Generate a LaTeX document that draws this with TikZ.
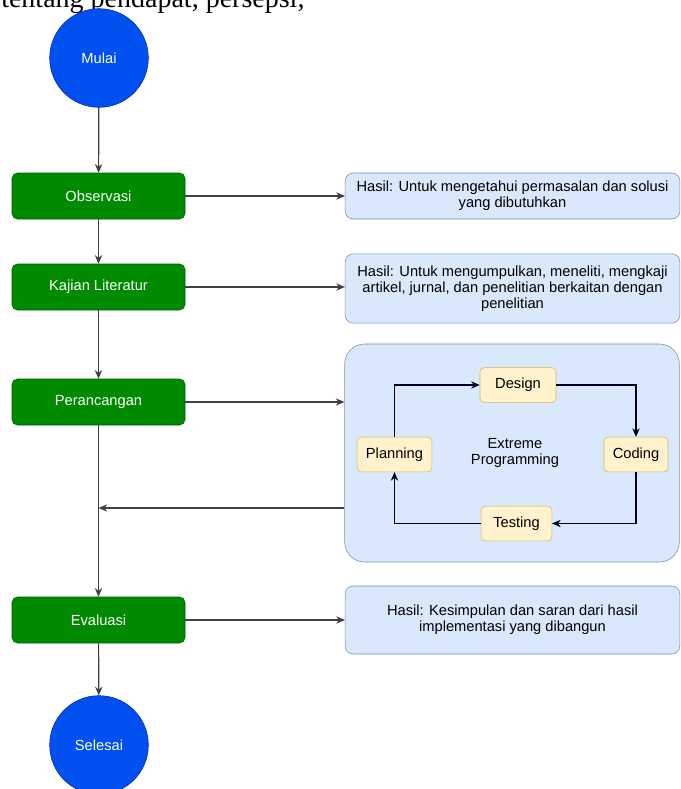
\documentclass[tikz,border=0pt]{standalone}
\usepackage{fontspec}
\setmainfont{Liberation Sans}
\newfontfamily\pageserif{Liberation Serif}
\usetikzlibrary{arrows.meta}

\begin{document}
\begin{tikzpicture}[x=0.75pt,y=-0.75pt,
    font=\fontsize{11}{11.8}\selectfont,
    terminal/.style={circle,fill=startcolor,draw=startline,text=white,minimum size=74pt,inner sep=0pt},
    process/.style={rectangle,rounded corners=4pt,fill=stepcolor,draw=stepline,text=white,minimum width=129.75pt,minimum height=34.5pt},
    hasil/.style={rectangle,rounded corners=6pt,fill=hasilcolor,draw=hasilline,align=center,minimum width=251pt},
    xpstep/.style={rectangle,rounded corners=3pt,fill=xpcolor,draw=xpline,minimum height=26pt,inner sep=2pt},
    line/.style={draw=black!75,line width=0.9pt,-{Stealth[length=6.5pt,width=5.5pt]}},
    xpline/.style={draw=black!85!blue,line width=0.9pt,-{Stealth[length=6.5pt,width=5.5pt]}}]

    \definecolor{startcolor}{HTML}{0050EF}
    \definecolor{startline}{HTML}{001DBC}
    \definecolor{stepcolor}{HTML}{008A00}
    \definecolor{stepline}{HTML}{005700}
    \definecolor{hasilcolor}{HTML}{DAE8FC}
    \definecolor{hasilline}{HTML}{6C8EBF}
    \definecolor{xpcolor}{HTML}{FFF2CC}
    \definecolor{xpline}{HTML}{D6B656}

    \useasboundingbox (0,0) rectangle (681,789);

    % text of the page above the figure
    \node[font=\pageserif\fontsize{21}{21}\selectfont,anchor=base west,inner sep=0pt] (kutipan) at (1,7.5) {tentang pendapat, persepsi,};

    % main flow
    \node[terminal] (mulai) at (99,58) {Mulai};
    \node[process] (observasi) at (98.5,196) {Observasi};
    \node[process] (kajian) at (98.5,287) {Kajian Literatur};
    \node[process] (perancangan) at (98.5,402) {Perancangan};
    \node[process] (evaluasi) at (98.5,620) {Evaluasi};
    \node[terminal] (selesai) at (99,745) {Selesai};

    % results
    \node[hasil,minimum height=34.5pt] (hasil1) at (512.5,196)
        {Hasil: Untuk mengetahui permasalan dan solusi\\ yang dibutuhkan};
    \node[hasil,minimum height=52pt] (hasil2) at (512.5,288.5)
        {Hasil: Untuk mengumpulkan, meneliti, mengkaji\\ artikel, jurnal, dan penelitian berkaitan dengan\\ penelitian};
    \node[hasil,minimum height=163.5pt,rounded corners=15pt] (xp) at (512,453) {};
    \node[hasil,minimum height=51pt] (hasil4) at (512.5,620)
        {Hasil: Kesimpulan dan saran dari hasil\\ implementasi yang dibangun};

    % extreme programming cycle
    \node[align=center] (xplabel) at (515,453) {Extreme\\ Programming};
    \node[xpstep,minimum width=57pt] (design) at (518,385) {Design};
    \node[xpstep,minimum width=56pt] (planning) at (394.5,454.5) {Planning};
    \node[xpstep,minimum width=48pt] (coding) at (636,454.5) {Coding};
    \node[xpstep,minimum width=53pt] (testing) at (516.5,523.5) {Testing};

    \draw[xpline] (planning.north) |- (design.west);
    \draw[xpline] (design.east) -| (coding.north);
    \draw[xpline] (coding.south) |- (testing.east);
    \draw[xpline] (testing.west) -| (planning.south);

    % connectors
    \coordinate (balik) at (98.5,508);

    \draw[line] (mulai) -- (observasi);
    \draw[line] (observasi) -- (kajian);
    \draw[line] (kajian) -- (perancangan);
    \draw[line] (perancangan) -- (evaluasi);
    \draw[line] (evaluasi) -- (selesai);

    \draw[line] (observasi) -- (hasil1);
    \draw[line] (kajian.east) -- (kajian.east -| hasil2.west);
    \draw[line] (perancangan.east) -- (perancangan.east -| xp.west);
    \draw[line] (xp.west |- balik) -- (balik);
    \draw[line] (evaluasi) -- (hasil4);

\end{tikzpicture}
\end{document}
